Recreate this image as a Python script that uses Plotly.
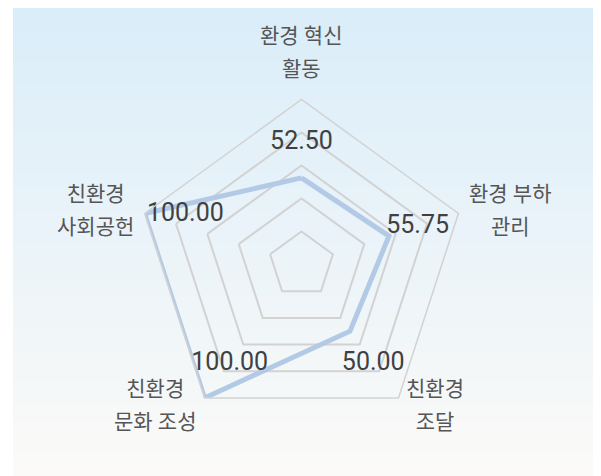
import math
import plotly.graph_objects as go

categories = ["환경 혁신<br>활동", "환경 부하<br>관리", "친환경<br>조달", "친환경<br>문화 조성", "친환경<br>사회공헌"]
values = [52.50, 55.75, 50.00, 100.00, 100.00]
value_labels = [f"{v:.2f}" for v in values]
label_radius = 74
label_positions = ["middle center", "middle center", "middle center", "middle center", "top center"]

# page body has an 8px margin, so the figure is drawn slightly smaller
W, H = 593, 468
OFF = 8
fig = go.Figure()

# background gradient (light blue at top to near-white at bottom)
top = (218, 237, 249)
bot = (251, 250, 248)
n = 60
x0 = (13 - OFF) / W
for i in range(n):
    t = i / (n - 1)
    c = tuple(round(top[k] + (bot[k] - top[k]) * t) for k in range(3))
    y1 = 1 - i / n
    y0 = 1 - (i + 1) / n
    fig.add_shape(type="rect", xref="paper", yref="paper", x0=x0, x1=1, y0=y0 - 0.002, y1=y1,
                  fillcolor=f"rgb{c}", line=dict(width=0), layer="below")

fig.add_trace(go.Scatterpolar(
    r=values + values[:1], theta=categories + categories[:1],
    mode="lines", line=dict(color="#b3cae6", width=5), hoverinfo="skip", showlegend=False,
))
fig.add_trace(go.Scatterpolar(
    r=[label_radius] * len(values), theta=categories,
    mode="text", text=value_labels, textposition=label_positions,
    textfont=dict(family="Roboto", size=25, color="#404040"), hoverinfo="skip", showlegend=False,
))

cx, cy, R = 301.5 - OFF, 264.5 - OFF, 165

# category labels placed just outside each vertex of the pentagon
pad = 9
for i, cat in enumerate(categories):
    a = math.radians(i * 360 / len(categories))
    s, co = math.sin(a), math.cos(a)
    p = pad + (7 if co > 0.95 else 0)
    px = cx + (R + p) * s
    py = cy - (R + p) * co
    xanchor = "center" if abs(s) < 0.1 else ("left" if s > 0 else "right")
    yanchor = "bottom" if co > 0.95 else ("top" if co < -0.95 else "middle")
    lines = cat.split("<br>")
    text = "<br>".join(f"<span style='font-size:21px'>{ln}</span>" for ln in lines)
    fig.add_annotation(x=px / W, y=1 - py / H, xref="paper", yref="paper", text=text,
                       showarrow=False, xanchor=xanchor, yanchor=yanchor, align="center",
                       font=dict(size=25, color="#555555", family="Roboto, 'Noto Sans CJK KR'"))

fig.update_layout(
    width=W, height=H,
    margin=dict(l=0, r=0, t=0, b=0),
    paper_bgcolor="white",
    font=dict(family="Roboto, 'Noto Sans CJK KR'", color="#555555"),
    polar=dict(
        domain=dict(x=[(cx - R) / W, (cx + R) / W], y=[1 - (cy + R) / H, 1 - (cy - R) / H]),
        bgcolor="rgba(0,0,0,0)",
        gridshape="linear",
        radialaxis=dict(range=[0, 100], dtick=20, showticklabels=False, ticks="", showline=False,
                        gridcolor="#d2d2d2", gridwidth=1.5),
        angularaxis=dict(rotation=90, direction="clockwise", showgrid=False, ticks="",
                         showticklabels=False, showline=True, linecolor="#d2d2d2", linewidth=1.5),
    ),
)

fig.write_html("out.html")
